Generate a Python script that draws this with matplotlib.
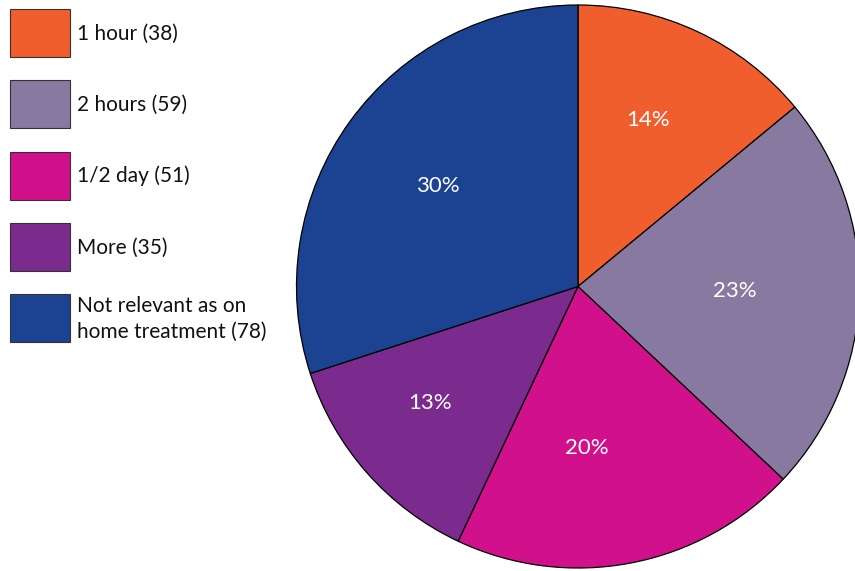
import matplotlib
matplotlib.use("Agg")
import numpy as np
import matplotlib.pyplot as plt
from matplotlib.patches import Rectangle

# Waiting time categories, response counts and the percentage shares printed on the pie
categories = ["1 hour", "2 hours", "1/2 day", "More", "Not relevant as on\nhome treatment"]
counts = [38, 59, 51, 35, 78]
percentages = [14, 23, 20, 13, 30]
colors = ["#F05E2D", "#8879A1", "#D1118B", "#7B2A8E", "#1B4391"]

# placement of each percentage label: fraction of the radius, angular nudge in degrees
label_radius = [0.643, 0.558, 0.573, 0.668, 0.613]
label_nudge = [2.5, 0.0, -7.6, -3.3, 0.2]

W, H = 855, 571
fig = plt.figure(figsize=(W / 100, H / 100), dpi=100)
ax = fig.add_axes([0, 0, 1, 1])

cx, cy, r = 578, H - 286.5, 281.5
wedges, _ = ax.pie(
    percentages,
    colors=colors,
    startangle=90,
    counterclock=False,
    center=(cx, cy),
    radius=r,
    frame=True,
    wedgeprops=dict(edgecolor="black", linewidth=0.9),
)
ax.set_xlim(0, W)
ax.set_ylim(0, H)
ax.set_aspect("equal")
ax.axis("off")

for w, pct, frac, nudge in zip(wedges, percentages, label_radius, label_nudge):
    ang = np.deg2rad((w.theta1 + w.theta2) / 2 + nudge)
    ax.text(cx + frac * r * np.cos(ang), cy + frac * r * np.sin(ang),
            f"{pct}%", color="white", fontsize=16, family="Lato",
            ha="center", va="center")

# legend: colour swatch plus label with count
for i, (cat, n, col) in enumerate(zip(categories, counts, colors)):
    top = 9 + i * 71.3
    ax.add_patch(Rectangle((10, H - top - 48), 60, 48, facecolor=col,
                           edgecolor="#333333", linewidth=0.8))
    ax.text(77, H - top - 24.5, f"{cat} ({n})", fontsize=15, family="Lato",
            color="#111111", ha="left", va="center", linespacing=1.38)

fig.savefig("out.png", dpi=100)
